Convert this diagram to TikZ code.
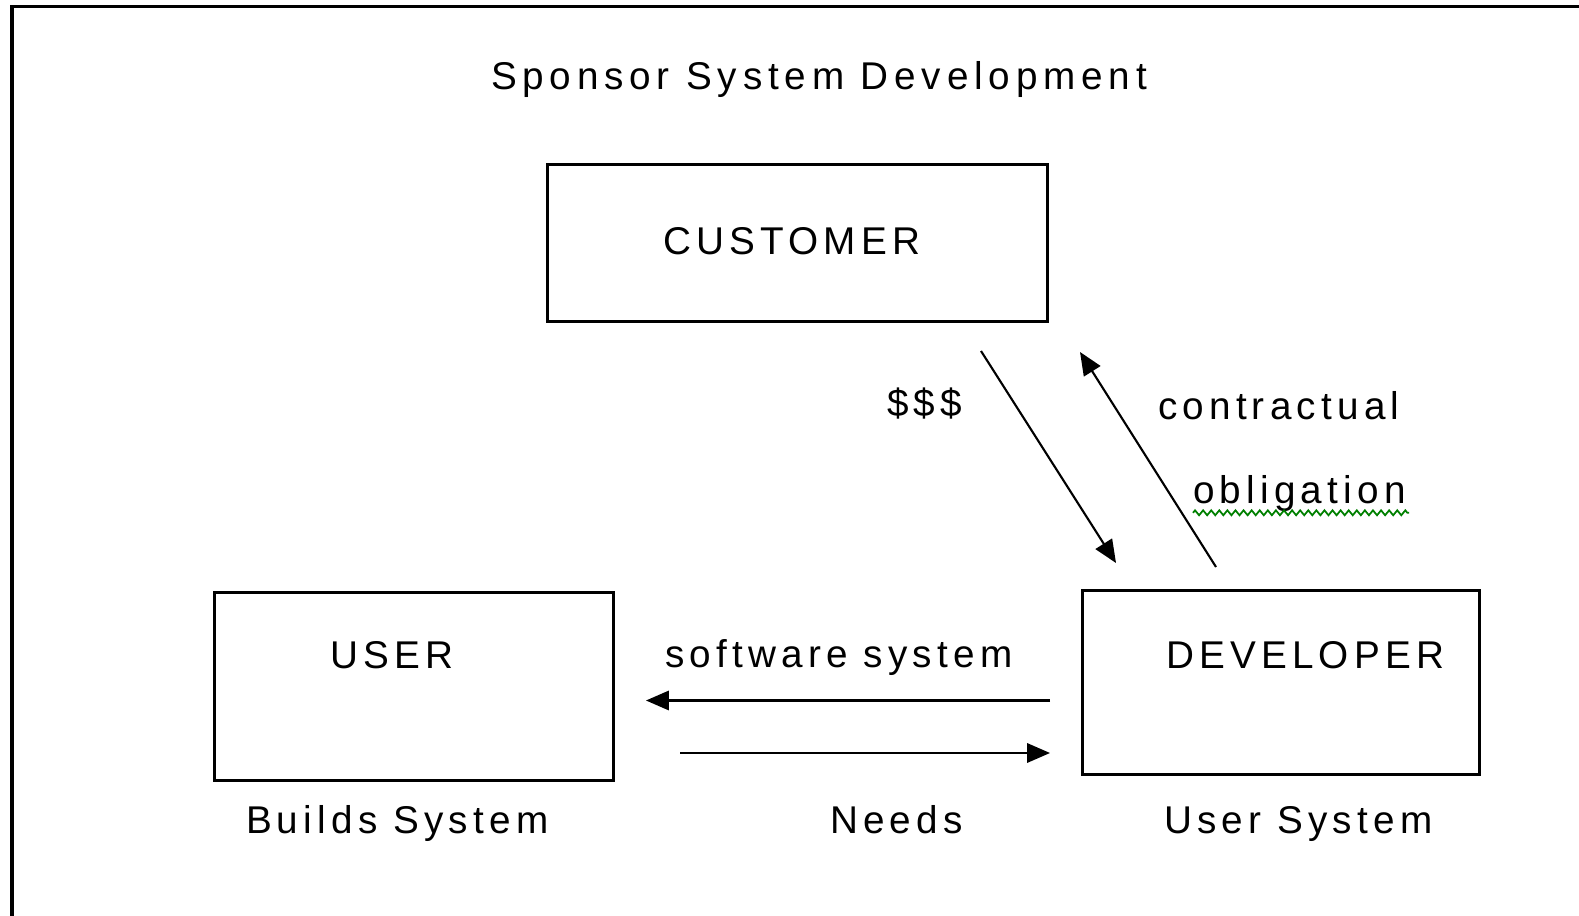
\documentclass[tikz,border=0pt]{standalone}
\usepackage{fontspec}
\setmainfont{Liberation Sans}
\newfontfamily\lsf[LetterSpace=13.5]{Liberation Sans}
\newfontfamily\lsfwide[LetterSpace=15]{Liberation Sans}
\usetikzlibrary{arrows.meta,decorations.pathmorphing}
\definecolor{squig}{RGB}{0,128,0}
\tikzset{
  lbl/.style={inner sep=0pt, outer sep=0pt, anchor=base west, font=\lsf\fontsize{11pt}{13pt}\selectfont},
  titlelbl/.style={inner sep=0pt, outer sep=0pt, anchor=base west, font=\lsfwide\fontsize{11pt}{13pt}\selectfont},
  boxnode/.style={draw, line width=0.8pt, inner sep=0pt, outer sep=0pt},
  arr/.style={line width=0.6pt, -{Triangle[length=6.5pt,width=5.5pt]}},
  framestyle/.style={line width=1.05pt, line cap=butt},
  squiggle/.style={squig, line width=0.5pt, decorate, decoration={zigzag, segment length=2.3pt, amplitude=0.7pt}}
}
\begin{document}
\begin{tikzpicture}[x=0.01cm, y=-0.01cm]
\useasboundingbox (0,0) rectangle (1579,916);
\fill[white] (0,0) rectangle (1579,916);
% frame (top and left edges)
\coordinate (fbl) at (12,916);
\coordinate (ftl) at (12,6.5);
\coordinate (ftr) at (1579,6.5);
\draw[framestyle] (fbl) -- (ftl) -- (ftr);
% title
\node[titlelbl] (title) at (491,90) {Sponsor System Development};
% boxes
\node[boxnode, minimum width=5.00cm, minimum height=1.57cm] (customer) at (797.5,243) {};
\node[boxnode, minimum width=3.99cm, minimum height=1.88cm] (user) at (414,686.5) {};
\node[boxnode, minimum width=3.97cm, minimum height=1.84cm] (developer) at (1281,682.5) {};
% box labels
\node[lbl] (customerlbl) at (663,255) {CUSTOMER};
\node[lbl] (userlbl) at (330,669) {USER};
\node[lbl] (developerlbl) at (1166,669) {DEVELOPER};
% other labels
\node[lbl] (dollars) at (887,417) {\$\$\$};
\node[lbl] (contract) at (1158,420) {contractual};
\node[lbl] (oblig) at (1193,504) {obligation};
\node[lbl] (swsys) at (665,668) {software system};
\node[lbl] (builds) at (246,833) {Builds System};
\node[lbl] (needs) at (830,833) {Needs};
\node[lbl] (usersys) at (1164,833) {User System};
% spell-check squiggle
\draw[squiggle] ([yshift=-2.5pt]oblig.base west) -- ([yshift=-2.5pt,xshift=1pt]oblig.base east);
% connectors
\coordinate (dollarA) at (981,351);
\coordinate (dollarB) at (1116,563);
\coordinate (oblA) at (1216,567);
\coordinate (oblB) at (1080,352);
\coordinate (swA) at (1050,700.5);
\coordinate (swB) at (646,700.5);
\coordinate (needA) at (680,753);
\coordinate (needB) at (1050,753);
\draw[arr] (dollarA) -- (dollarB);
\draw[arr] (oblA) -- (oblB);
\draw[arr] (swA) -- (swB);
\draw[arr] (needA) -- (needB);
\end{tikzpicture}
\end{document}
